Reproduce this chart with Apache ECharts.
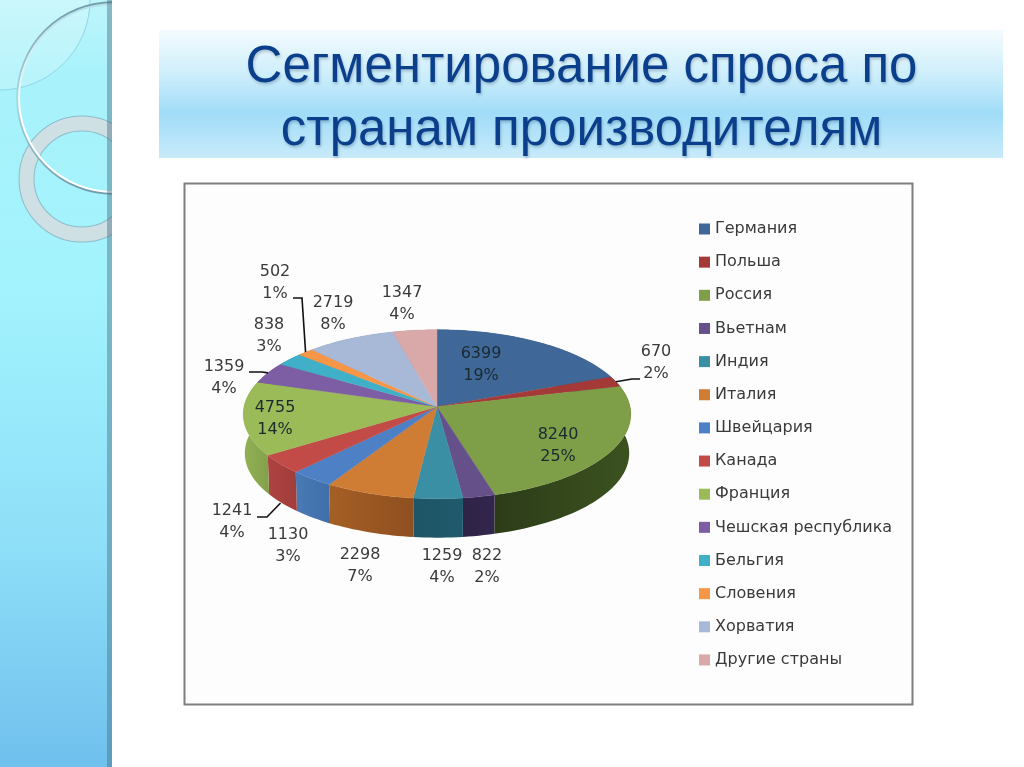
<!DOCTYPE html>
<html><head><meta charset="utf-8">
<style>html,body{margin:0;padding:0;background:#fff}#c{width:1024px;height:767px}</style>
<script src="https://cdn.jsdelivr.net/npm/echarts@6/dist/echarts.min.js"></script>
</head><body><div id="c"></div>
<script>
const titleText = 'Сегментирование спроса по\nстранам производителям';
const countries = ['Германия','Польша','Россия','Вьетнам','Индия','Италия','Швейцария','Канада','Франция','Чешская республика','Бельгия','Словения','Хорватия','Другие страны'];
const values = [6399,670,8240,822,1259,2298,1130,1241,4755,1359,838,502,2719,1347];
const percents = [19,2,25,2,4,7,3,4,14,4,3,1,8,4];

// styles and layout (not data)
const topColors = ['#3f6797','#a33a38','#7f9e48','#65508a','#3a8fa5','#cf7c35','#4d80c4','#c24b48','#9bbb59','#7d5da3','#3fb0c8','#f79646','#a8b9d8','#d9a8a8'];
const sideColors = [['#2c4a6e','#2c4a6e'],['#6e2725','#6e2725'],['#2c3c18','#3c5220'],['#2f2347','#33264e'],['#1f5566','#1f5a6c'],['#a55f25','#8f4f1f'],['#4a7ab4','#3f6ea8'],['#ad4341','#a03d3b'],['#93b255','#82a04a'],['#5a4278','#5a4278'],['#2a7c8e','#2a7c8e'],['#b86a2e','#b86a2e'],['#78879f','#78879f'],['#a07a7a','#a07a7a']];
const labelCenters = [[481,365],[656,363],[558,446],[487,567],[442,567],[360,566],[288,546],[232,522],[275,419],[224,378],[269,336],[275,283],[333,314],[402,304]];
const leaderElbows = {1:[[632,379],[640,379]],11:[[302,298],[293,298]],9:[[262,372],[249,372]],7:[[267,517],[257,517]]};
const CX=437, CY=406.7, RX=193, RA=83.8, PB=0.0888, DEPTH=39;

const total = values.reduce((a,b)=>a+b,0);
const starts = []; { let c=0; values.forEach(v=>{starts.push(c); c+=v;}); }
function rim(deg, drop){
  const t=deg*Math.PI/180, u=Math.sin(t), v=-Math.cos(t), d=1-PB*v;
  const k = drop ? 0.992 : 1;
  return [CX+k*RX*u/d, CY+RA*v/d+(drop?DEPTH:0)];
}
function arcPts(a0,a1,drop){
  const n=Math.max(2,Math.ceil((a1-a0)/1.5)), out=[];
  for(let i=0;i<=n;i++) out.push(rim(a0+(a1-a0)*i/n,drop));
  return out;
}
const range = i => [starts[i]/total*360,(starts[i]+values[i])/total*360];

const sideSeries = {
  type:'custom', coordinateSystem:'none', silent:true, z:2,
  data: values.map((v,i)=>[i]),
  renderItem(params){
    const i=params.dataIndex, [a0,a1]=range(i);
    const pts=arcPts(a0,a1,false).concat(arcPts(a0,a1,true).reverse());
    return {type:'polygon',shape:{points:pts},style:{fill:{type:'linear',x:0,y:0,x2:1,y2:0,colorStops:[{offset:0,color:sideColors[i][0]},{offset:1,color:sideColors[i][1]}]}}};
  }
};
const topSeries = countries.map((name,i)=>({
  type:'custom', name, coordinateSystem:'none', silent:true, z:3,
  itemStyle:{color:topColors[i]},
  data:[[values[i]]],
  renderItem(){
    const [a0,a1]=range(i);
    return {type:'polygon',shape:{points:[[CX,CY]].concat(arcPts(a0,a1,false))},style:{fill:topColors[i],stroke:topColors[i],lineWidth:0.4}};
  }
}));
const labelSeries = {
  type:'custom', coordinateSystem:'none', silent:true, z:5,
  data: values.map((v,i)=>[v,percents[i]]),
  renderItem(params,api){
    const i=params.dataIndex, children=[];
    const c=labelCenters[i];
    children.push({type:'text',style:{x:c[0],y:c[1],text:api.value(0)+'\n'+api.value(1)+'%',fill:i===0||i===2||i===8?'#1a2a30':'#3a3a3a',font:'16px "DejaVu Sans"',lineHeight:22,align:'center',verticalAlign:'middle'}});
    if(leaderElbows[i]){
      const [a0,a1]=range(i), m=(a0+a1)/2;
      const s=rim(m,false); if(i===7) s[1]+=DEPTH;
      children.push({type:'polyline',shape:{points:[s].concat(leaderElbows[i])},style:{stroke:'#111',lineWidth:1.6,fill:null}});
    }
    return {type:'group',children};
  }
};

const graphics = [
  {type:'rect',shape:{x:0,y:0,width:112,height:767},style:{fill:{type:'linear',x:0,y:0,x2:0,y2:1,colorStops:[{offset:0,color:'#bdf5fb'},{offset:0.1,color:'#a8f2fb'},{offset:0.38,color:'#a2f3fd'},{offset:0.7,color:'#8fe0f8'},{offset:1,color:'#70c0ee'}]}}},
  {type:'circle',shape:{cx:0,cy:0,r:90},style:{fill:'rgba(255,255,255,0.2)',stroke:'#8fd8e4',lineWidth:1}},
  {type:'circle',shape:{cx:82,cy:179,r:55.5},style:{fill:null,stroke:'#8cbcca',lineWidth:16}},
  {type:'circle',shape:{cx:82,cy:179,r:55.5},style:{fill:null,stroke:'#cfe0e5',lineWidth:14}},
  {type:'circle',shape:{cx:113,cy:98,r:95.5},style:{fill:null,stroke:{type:'linear',x:0,y:0,x2:0,y2:1,colorStops:[{offset:0,color:'#6f98a8'},{offset:0.5,color:'#a8d8e2'},{offset:1,color:'#6f98a8'}]},lineWidth:2.5}},
  {type:'circle',shape:{cx:113,cy:98,r:94},style:{fill:null,stroke:{type:'linear',x:0,y:0,x2:0,y2:1,colorStops:[{offset:0,color:'#b0dfe8'},{offset:0.6,color:'#ffffff'},{offset:1,color:'#ffffff'}]},lineWidth:2}},
  {type:'rect',shape:{x:107,y:0,width:5,height:767},style:{fill:'rgba(70,110,130,0.45)'}},
  {type:'rect',shape:{x:112,y:0,width:912,height:767},style:{fill:'#ffffff'}},
  {type:'rect',shape:{x:159,y:30,width:844,height:128},style:{fill:{type:'linear',x:0,y:0,x2:0,y2:1,colorStops:[{offset:0,color:'#f4fbfe'},{offset:0.35,color:'#cdeefb'},{offset:0.65,color:'#a0dcf8'},{offset:1,color:'#c8ebfa'}]}}},
  {type:'rect',shape:{x:184.5,y:183.5,width:728,height:521},style:{fill:'#fdfdfd',stroke:'#7f7f7f',lineWidth:2}}
];

const chart = echarts.init(document.getElementById('c'),null,{renderer:'canvas'});
chart.setOption({
  animation:false,
  backgroundColor:'#ffffff',
  color:topColors,
  title:{text:titleText,left:576.5,top:31,textAlign:'center',textStyle:{fontFamily:'"Liberation Sans"',fontSize:51,fontWeight:'normal',lineHeight:63,color:'#0b3f8c',textShadowColor:'rgba(0,30,70,0.25)',textShadowBlur:3,textShadowOffsetX:1,textShadowOffsetY:2}},
  legend:{orient:'vertical',left:694,top:215,icon:'rect',itemWidth:11,itemHeight:11,itemGap:15.15,data:countries,selectedMode:false,textStyle:{fontFamily:'"DejaVu Sans"',fontSize:16,lineHeight:18,color:'#3a3a3a'}},
  graphic:{elements:graphics},
  series:[sideSeries].concat(topSeries,[labelSeries])
});
</script></body></html>
